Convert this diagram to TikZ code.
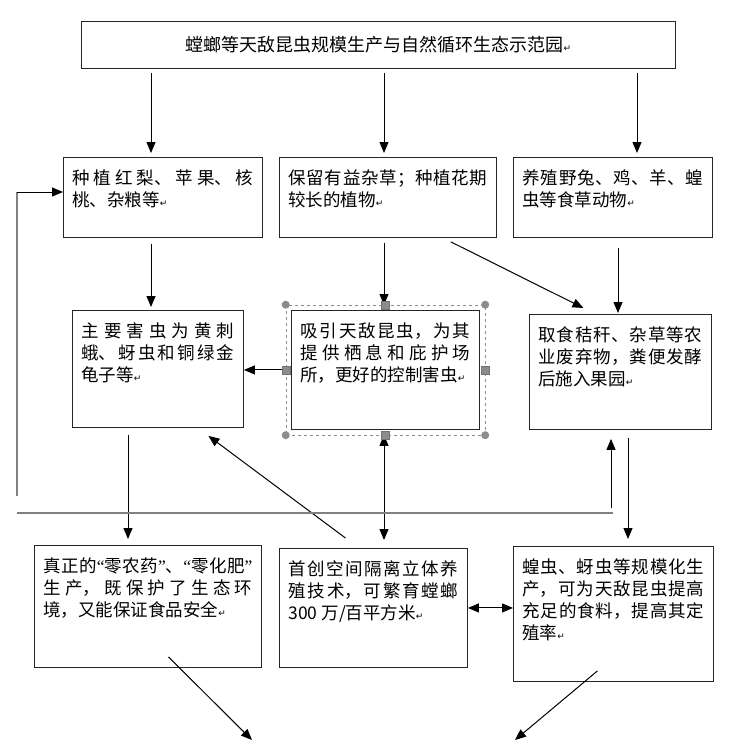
\documentclass[tikz,border=0pt]{standalone}
\usepackage{fontspec}
\setmainfont{Noto Sans CJK SC}
\newfontfamily\latinf{Liberation Serif}
\newfontfamily\symf{DejaVu Sans}
\usetikzlibrary{positioning, arrows.meta, calc, fit}
\XeTeXlinebreaklocale "zh"
\XeTeXlinebreakskip=0pt plus 3pt
\newcommand\pmk{{\symf\fontsize{9}{9}\selectfont ↵}}
\newcommand\qopen{{\latinf “}}
\newcommand\qclose{{\latinf ”}}

\begin{document}
\begin{tikzpicture}[x=1pt, y=-1pt,
  >={Triangle[length=11pt, width=9pt]},
  every node/.style={font=\fontsize{17.5}{22}\selectfont},
  blk/.style 2 args={
    draw=black!85, line width=0.9pt, anchor=north west,
    inner xsep=9pt, inner ysep=0pt, align=justify,
    text width=#1, text height=27pt, text depth=#2
  },
  arr/.style={->, line width=1pt},
  darr/.style={<->, line width=1pt},
  loopln/.style={draw=black!50, line width=1.4pt}]
\useasboundingbox (0,0) rectangle (741,752);
% title
\node[draw=black!85, line width=0.9pt, anchor=north west, inner sep=0pt,
  minimum width=594pt, minimum height=47pt,
  font=\fontsize{18}{22}\selectfont] (ttl) at (81,21)
  {螳螂等天敌昆虫规模生产与自然循环生态示范园\pmk};
% first row
\node[blk={181pt}{53pt}] (plant) at (63,157) {种植红梨、苹果、核\linebreak 桃、杂粮等\pmk};
\node[blk={199pt}{53pt}] (weed) at (279,157) {保留有益杂草；种植花期\linebreak 较长的植物\pmk};
\node[blk={181pt}{53pt}] (herb) at (513,157) {养殖野兔、鸡、羊、蝗\linebreak 虫等食草动物\pmk};
% second row
\node[blk={153pt}{90pt}] (pest) at (72,310) {主要害虫为黄刺\linebreak 蛾、蚜虫和铜绿金\linebreak 龟子等\pmk};
\node[blk={170pt}{92pt}] (lure) at (291,310) {吸引天敌昆虫，为其\linebreak 提供栖息和庇护场\linebreak 所，更好的控制害虫\pmk};
\node[blk={164pt}{88pt}] (feed) at (529,314) {取食秸秆、杂草等农\linebreak 业废弃物，粪便发酵\linebreak 后施入果园\pmk};
% third row
\node[blk={209pt}{95pt}] (zero) at (34,545) {真正的\qopen 零农药\qclose 、\qopen 零化肥\qclose\linebreak 生产，既保护了生态环\linebreak 境，又能保证食品安全\pmk};
\node[blk={170pt}{92pt}] (breed) at (279,548) {首创空间隔离立体养\linebreak 殖技术，可繁育螳螂\linebreak 300 万/百平方米\pmk};
\node[blk={182pt}{108pt}] (mass) at (513,546) {蝗虫、蚜虫等规模化生\linebreak 产，可为天敌昆虫提高\linebreak 充足的食料，提高其定\linebreak 殖率\pmk};

\coordinate (xa) at (151,0);
\coordinate (xb) at (384,0);
\coordinate (xc) at (637,0);
\coordinate (xe) at (618,0);
\coordinate (xg) at (128,0);
\coordinate (xh) at (628,0);
\coordinate (up0) at (611,508);
\coordinate (lpa) at (17,496);
\coordinate (lpb) at (17,192);
\coordinate (lpc) at (17,513);
\coordinate (lpd) at (613,513);
\coordinate (outl) at (252,740);
\coordinate (outr) at (515,740);

\draw[arr, shorten <=4pt, shorten >=4pt] (ttl.south -| xa) -- (plant.north -| xa);
\draw[arr, shorten <=4pt, shorten >=4pt] (ttl.south -| xb) -- (weed.north -| xb);
\draw[arr, shorten <=4pt, shorten >=4pt] (ttl.south -| xc) -- (herb.north -| xc);
\draw[arr, shorten <=6pt, shorten >=3pt] (plant.south -| xa) -- (pest.north -| xa);
\draw[arr, shorten <=5pt, shorten >=5pt] (weed.south -| xb) -- (lure.north -| xb);
\draw[arr] ($(weed.south east)+(-46,4)$) -- ($(feed.north)+(-37,-6)$);
\draw[arr, shorten <=10pt, shorten >=1pt] (herb.south -| xe) -- (feed.north -| xe);
\draw[arr, shorten <=5pt] (lure.west) -- (lure.west -| pest.east);
\draw[arr, shorten <=7pt, shorten >=6pt] (pest.south -| xg) -- (zero.north -| xg);
\draw[arr] ($(breed.north)+(-28,-10)$) -- ($(pest.south)+(50.5,8)$);
\draw[darr, shorten <=5pt, shorten >=8pt] (lure.south -| xb) -- (breed.north -| xb);
\draw[darr] (breed.east) -- (breed.east -| mass.west);
\draw[arr, shorten <=8pt, shorten >=7pt] (feed.south -| xh) -- (mass.north -| xh);
\draw[arr, shorten >=9pt] (up0) -- (up0 |- feed.south);
% feedback lines
\draw[loopln] (lpa) -- (lpb);
\draw[arr] (lpb) -- (lpb -| plant.west);
\draw[loopln] (lpc) -- (lpd);
% outputs
\draw[arr] ($(zero.south)+(20.5,-11)$) -- (outl);
\draw[arr] ($(mass.south)+(-16,-11)$) -- (outr);

% selection frame
\node[fit=(lure), inner sep=5pt, draw=black!45, dashed, line width=0.6pt] (sel) {};
\foreach \c in {north west, north east, south west, south east}
  \fill[black!45] (sel.\c) circle (4pt);
\foreach \s in {north, south, west, east}
  \filldraw[fill=black!45, draw=black!55] ($(sel.\s)+(-4,-4)$) rectangle ($(sel.\s)+(4,4)$);
\end{tikzpicture}
\end{document}
